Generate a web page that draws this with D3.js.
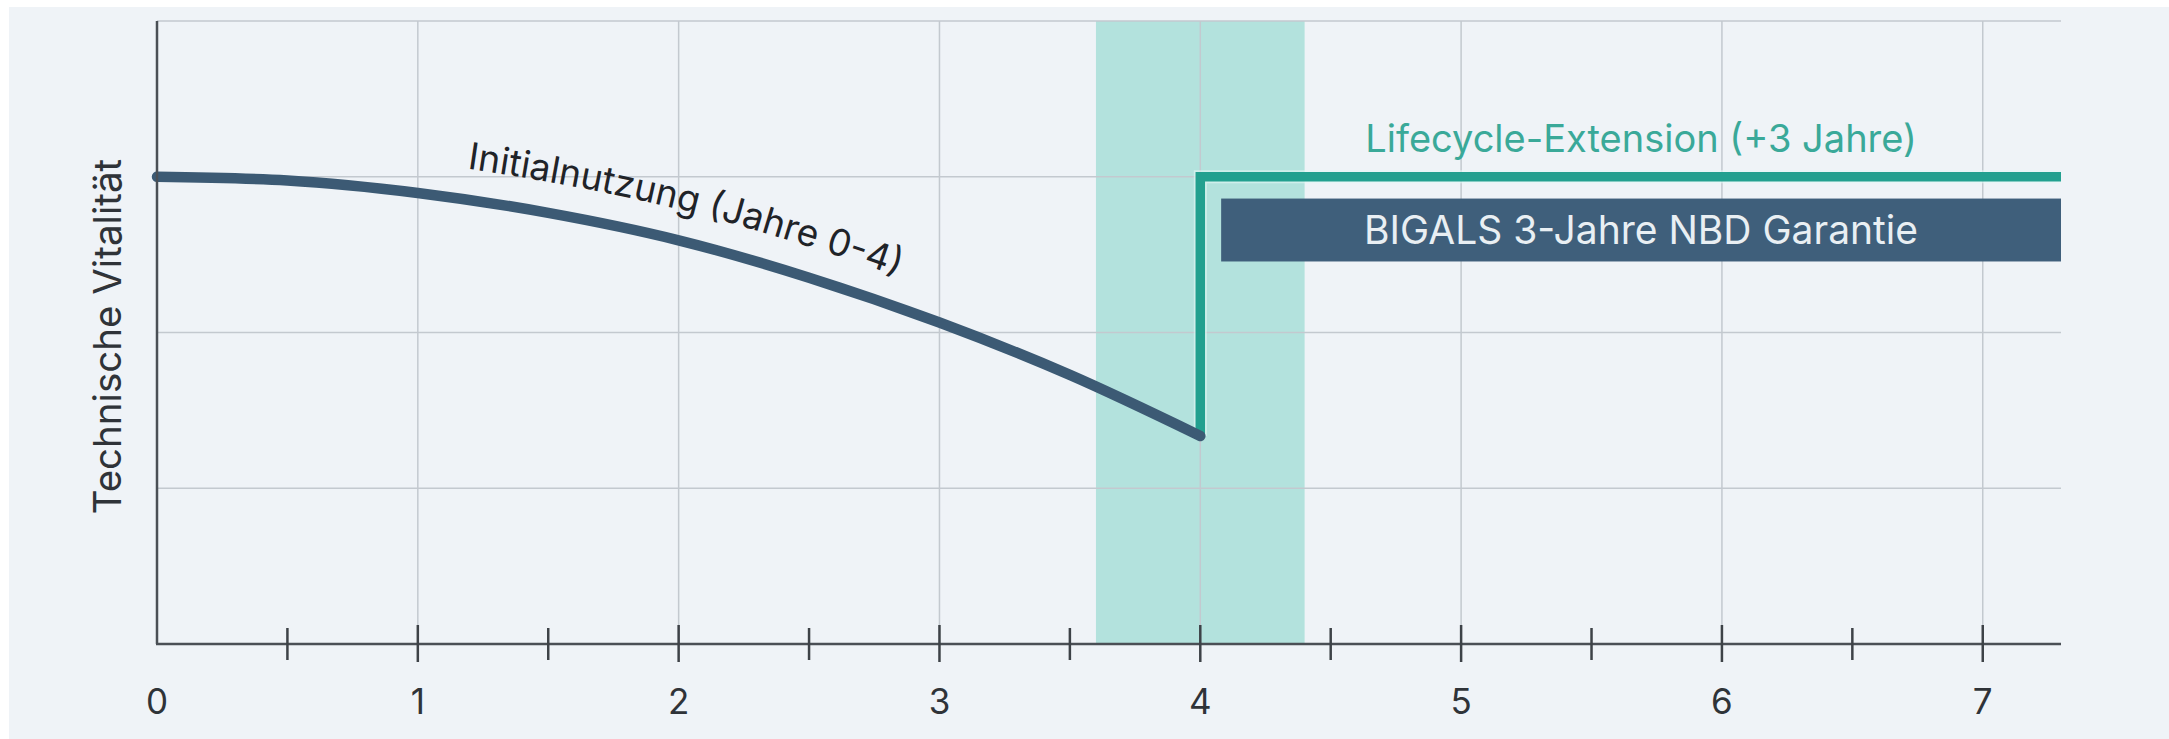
<!DOCTYPE html>
<html>
<head>
<meta charset="utf-8">
<script src="https://cdn.jsdelivr.net/npm/d3@7"></script>
<style>
  html, body { margin: 0; padding: 0; background: #ffffff; }
  svg { display: block; }
  text { font-family: Inter, "Noto Sans", sans-serif; }
</style>
</head>
<body>
<svg id="chart" width="2169" height="739"></svg>
<script>
// ---- data ----
const years = [0, 0.5, 1, 1.5, 2, 2.5, 3, 3.5, 4];
const vitality = [75, 74.4, 72.4, 69.2, 64.8, 58.8, 51.6, 43.2, 33.4];
const extensionYears = [4, 4, 7.3];
const extensionValues = [33.4, 75, 75];
const windowRange = [3.6, 4.4];
const guaranteeRange = [4.08, 7.3];
const guaranteeLevels = [61.4, 71.5];
const xTickValues = [0.5, 1, 1.5, 2, 2.5, 3, 3.5, 4, 4.5, 5, 5.5, 6, 6.5, 7];
const xLabelValues = [0, 1, 2, 3, 4, 5, 6, 7];
const xLabels = ["0", "1", "2", "3", "4", "5", "6", "7"];
const yGridValues = [25, 50, 75, 100];
const xGridValues = [1, 2, 3, 4, 5, 6, 7];
const yAxisTitle = "Technische Vitalität";
const initialLabel = "Initialnutzung (Jahre 0-4)";
const extensionLabel = "Lifecycle-Extension (+3 Jahre)";
const guaranteeLabel = "BIGALS 3-Jahre NBD Garantie";

// ---- layout ----
const W = 2169, H = 739;
const svg = d3.select("#chart");
const x = d3.scaleLinear().domain([0, 7.3]).range([157, 2061]);
const y = d3.scaleLinear().domain([0, 100]).range([644, 21]);

// background panel
svg.append("rect").attr("x", 9).attr("y", 7).attr("width", W - 9).attr("height", H - 7)
  .attr("fill", "#eff3f7");

// service window band
svg.append("rect")
  .attr("x", x(windowRange[0])).attr("y", y(100))
  .attr("width", x(windowRange[1]) - x(windowRange[0]))
  .attr("height", y(0) - y(100))
  .attr("fill", "#b3e2dd");

// grid
svg.append("g").selectAll("line").data(yGridValues).join("line")
  .attr("x1", x(0)).attr("x2", x(7.3))
  .attr("y1", d => y(d)).attr("y2", d => y(d))
  .attr("stroke", "#c3c9cf").attr("stroke-width", 1.5);
svg.append("g").selectAll("line").data(xGridValues).join("line")
  .attr("x1", d => x(d)).attr("x2", d => x(d))
  .attr("y1", y(100)).attr("y2", y(0))
  .attr("stroke", "#c3c9cf").attr("stroke-width", 1.5);

// guarantee box
svg.append("rect")
  .attr("x", x(guaranteeRange[0])).attr("y", y(guaranteeLevels[1]))
  .attr("width", x(guaranteeRange[1]) - x(guaranteeRange[0]))
  .attr("height", y(guaranteeLevels[0]) - y(guaranteeLevels[1]))
  .attr("fill", "#3f5f7b");
svg.append("text")
  .attr("x", (x(guaranteeRange[0]) + x(guaranteeRange[1])) / 2)
  .attr("y", (y(guaranteeLevels[0]) + y(guaranteeLevels[1])) / 2 + 14)
  .attr("text-anchor", "middle")
  .attr("font-size", 39)
  .attr("fill", "#e9eff3")
  .text(guaranteeLabel);

// extension line
const extData = extensionYears.map((d, i) => [d, extensionValues[i]]);
const lineStraight = d3.line().x(d => x(d[0])).y(d => y(d[1]));
svg.append("path").attr("d", lineStraight(extData))
  .attr("fill", "none").attr("stroke", "#e2f8f5").attr("stroke-width", 13)
  .attr("stroke-linejoin", "miter").attr("opacity", 0.6);
svg.append("path").attr("d", lineStraight(extData))
  .attr("fill", "none").attr("stroke", "#22a08f").attr("stroke-width", 9.5)
  .attr("stroke-linejoin", "miter");

// initial curve
const curveData = years.map((d, i) => [d, vitality[i]]);
const curveLine = d3.line().x(d => x(d[0])).y(d => y(d[1])).curve(d3.curveMonotoneX);
svg.append("path").attr("d", curveLine(curveData))
  .attr("fill", "none").attr("stroke", "#3c5a74").attr("stroke-width", 10.5)
  .attr("stroke-linecap", "round");

// curve label on offset path
const labelLine = d3.line().x(d => x(d[0])).y(d => y(d[1]) - 31).curve(d3.curveMonotoneX);
const defs = svg.append("defs");
const lp = defs.append("path").attr("id", "labelPath").attr("d", labelLine(curveData));
const pathNode = lp.node();
const total = pathNode.getTotalLength();
let lo = 0, hi = total;
for (let i = 0; i < 40; i++) {
  const mid = (lo + hi) / 2;
  if (pathNode.getPointAtLength(mid).x < 467) lo = mid; else hi = mid;
}
svg.append("text").attr("font-size", 37).attr("fill", "#1f2328")
  .append("textPath").attr("href", "#labelPath").attr("startOffset", lo)
  .text(initialLabel);

// extension label
svg.append("text")
  .attr("x", (x(guaranteeRange[0]) + x(guaranteeRange[1])) / 2)
  .attr("y", 152)
  .attr("text-anchor", "middle")
  .attr("font-size", 38)
  .attr("fill", "#3aa999")
  .text(extensionLabel);

// axes
svg.append("line").attr("x1", x(0)).attr("x2", x(0)).attr("y1", y(100)).attr("y2", y(0))
  .attr("stroke", "#4a4f55").attr("stroke-width", 2.5);
svg.append("line").attr("x1", x(0) - 1).attr("x2", x(7.3)).attr("y1", y(0)).attr("y2", y(0))
  .attr("stroke", "#4a4f55").attr("stroke-width", 2.5);
svg.append("g").selectAll("line").data(xTickValues).join("line")
  .attr("x1", d => x(d)).attr("x2", d => x(d))
  .attr("y1", d => y(0) - (Number.isInteger(d) ? 19 : 16))
  .attr("y2", d => y(0) + (Number.isInteger(d) ? 18 : 16))
  .attr("stroke", "#3d4247").attr("stroke-width", 2.5);
svg.append("g").selectAll("text").data(xLabelValues).join("text")
  .attr("x", d => x(d)).attr("y", 714)
  .attr("text-anchor", "middle")
  .attr("font-size", 35)
  .attr("fill", "#2f3338")
  .text((d, i) => xLabels[i]);

// y title
svg.append("text")
  .attr("transform", `translate(121, ${(y(0) + y(100)) / 2 + 4}) rotate(-90)`)
  .attr("text-anchor", "middle")
  .attr("font-size", 38.5)
  .attr("fill", "#2f3338")
  .text(yAxisTitle);
</script>
</body>
</html>
